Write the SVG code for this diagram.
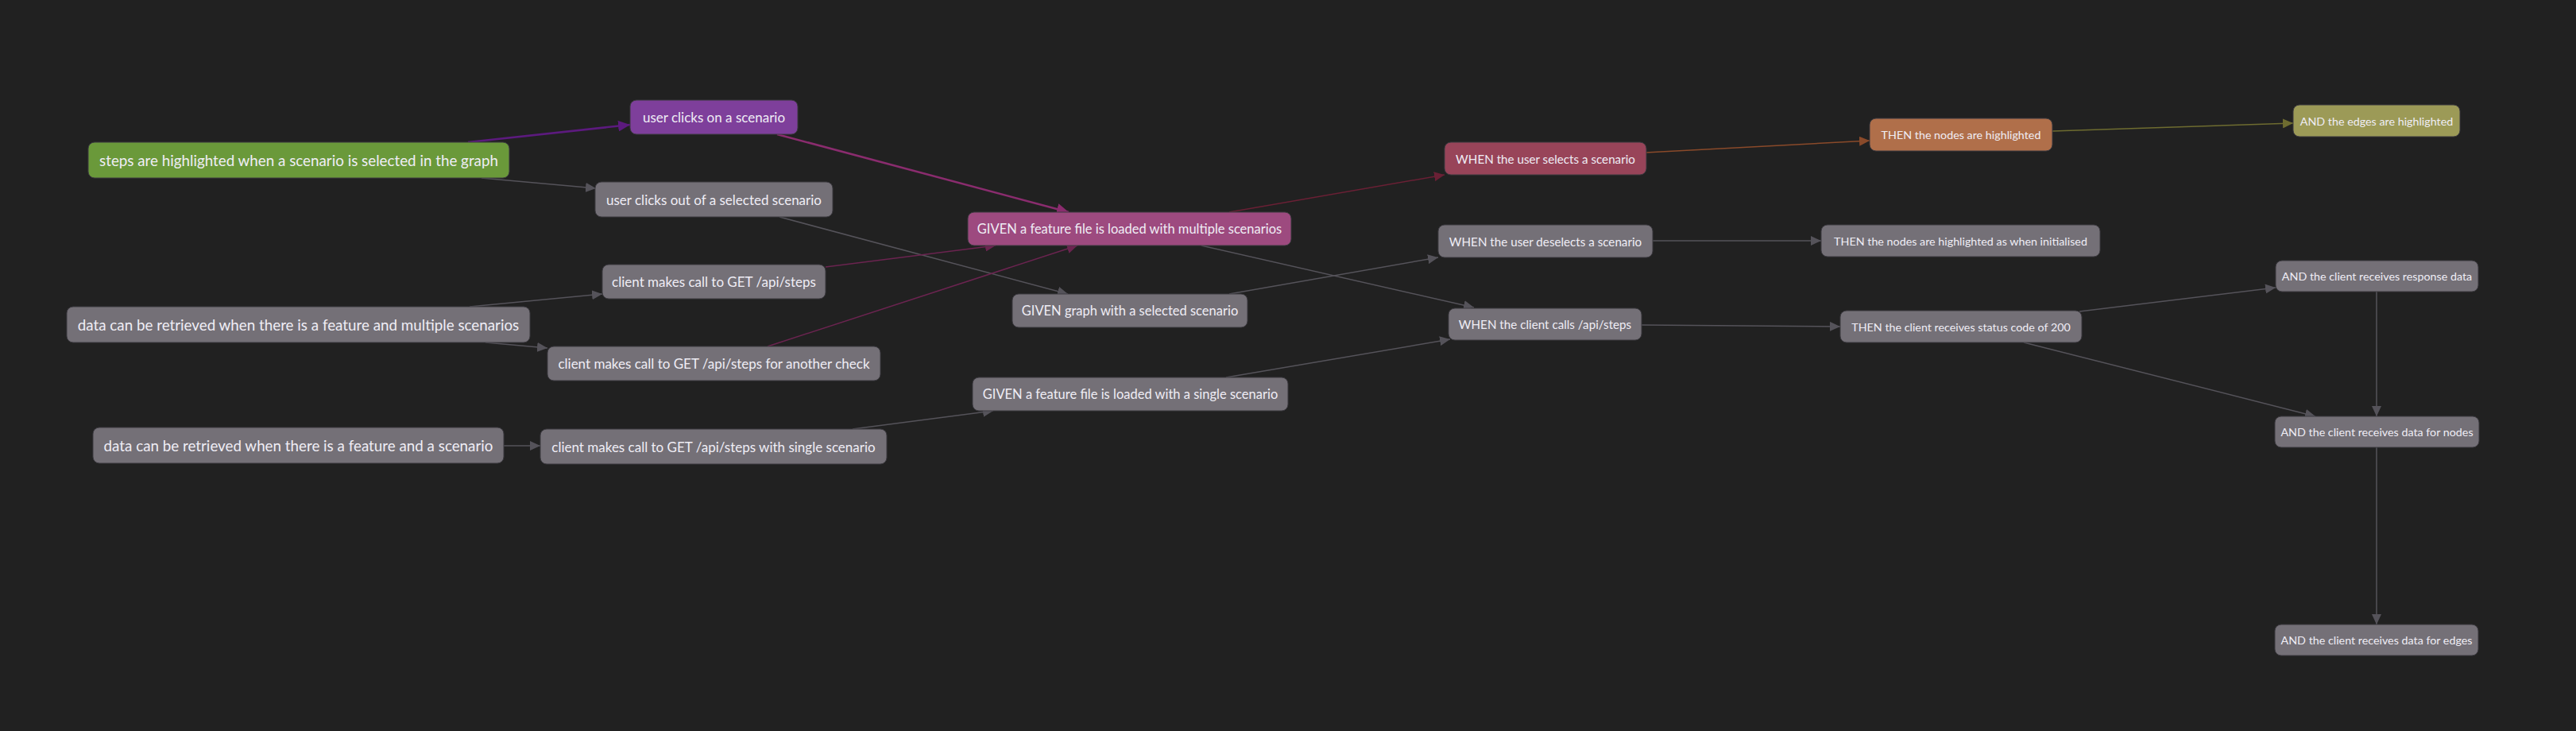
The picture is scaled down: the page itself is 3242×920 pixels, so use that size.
<svg xmlns="http://www.w3.org/2000/svg" width="3242" height="920" viewBox="0 0 3242 920">
<defs>
<style>
.bg{fill:#212121}
.n rect{stroke:#3c3a40;stroke-width:1}
.gray rect{fill:#747077}
.green rect{fill:#6a993a}
.purple rect{fill:#7e3f9b}
.given rect{fill:#9d4a7f}
.when rect{fill:#984459}
.then rect{fill:#b06f4a}
.and rect{fill:#9c9a57}
.n text{fill:#efedf5;font-family:Lato,"Open Sans","Noto Sans",sans-serif;text-anchor:middle;dominant-baseline:central}
.f1 text{font-size:18.8px}
.f2 text{font-size:17px}
.fg text{font-size:16.5px}
.f3 text{font-size:15.2px}
.f4 text{font-size:14.3px}
.e{fill:none;stroke:#55535a;stroke-width:1.5}
.e.ep{stroke:#5c1a7e;stroke-width:2.5}
.e.em{stroke:#8a2c6e;stroke-width:2.5}
.e.ed{stroke:#6b2450}
.e.er{stroke:#6a2035}
.e.eo{stroke:#8a4a2a}
.e.ey{stroke:#6e6c30}
</style>
<marker id="mg" markerUnits="userSpaceOnUse" markerWidth="14" markerHeight="12" refX="13" refY="6" orient="auto"><path d="M0,0 L13,6 L0,12 z" fill="#55535a"/></marker>
<marker id="mp" markerUnits="userSpaceOnUse" markerWidth="16" markerHeight="14" refX="15" refY="7" orient="auto"><path d="M0,0 L15,7 L0,14 z" fill="#5c1a7e"/></marker>
<marker id="mm" markerUnits="userSpaceOnUse" markerWidth="16" markerHeight="14" refX="15" refY="7" orient="auto"><path d="M0,0 L15,7 L0,14 z" fill="#8a2c6e"/></marker>
<marker id="md" markerUnits="userSpaceOnUse" markerWidth="14" markerHeight="12" refX="13" refY="6" orient="auto"><path d="M0,0 L13,6 L0,12 z" fill="#6b2450"/></marker>
<marker id="mr" markerUnits="userSpaceOnUse" markerWidth="14" markerHeight="12" refX="13" refY="6" orient="auto"><path d="M0,0 L13,6 L0,12 z" fill="#6a2035"/></marker>
<marker id="mo" markerUnits="userSpaceOnUse" markerWidth="14" markerHeight="12" refX="13" refY="6" orient="auto"><path d="M0,0 L13,6 L0,12 z" fill="#8a4a2a"/></marker>
<marker id="my" markerUnits="userSpaceOnUse" markerWidth="14" markerHeight="12" refX="13" refY="6" orient="auto"><path d="M0,0 L13,6 L0,12 z" fill="#6e6c30"/></marker>
</defs>
<rect class="bg" x="0" y="0" width="3242" height="920"/>
<g id="connectors">
<path class="e ep" d="M589,179 L793,157" marker-end="url(#mp)"/>
<path class="e" d="M606,224 L750,237" marker-end="url(#mg)"/>
<path class="e em" d="M978,169 L1345,267" marker-end="url(#mm)"/>
<path class="e" d="M981,273 L1344,370" marker-end="url(#mg)"/>
<path class="e ed" d="M1039,336 L1253,309" marker-end="url(#md)"/>
<path class="e ed" d="M966,436 L1356,309" marker-end="url(#md)"/>
<path class="e" d="M591,386 L758,370" marker-end="url(#mg)"/>
<path class="e" d="M611,431 L689,438" marker-end="url(#mg)"/>
<path class="e" d="M634,561 L680,561" marker-end="url(#mg)"/>
<path class="e" d="M1073,540 L1250,517" marker-end="url(#mg)"/>
<path class="e er" d="M1547,267 L1818,220" marker-end="url(#mr)"/>
<path class="e" d="M1512,309 L1855,387" marker-end="url(#mg)"/>
<path class="e" d="M1547,370 L1810,324" marker-end="url(#mg)"/>
<path class="e" d="M1543,475 L1825,427" marker-end="url(#mg)"/>
<path class="e eo" d="M2071,192 L2353,177" marker-end="url(#mo)"/>
<path class="e ey" d="M2583,165 L2886,155" marker-end="url(#my)"/>
<path class="e" d="M2080,303 L2292,303" marker-end="url(#mg)"/>
<path class="e" d="M2066,409 L2316,411" marker-end="url(#mg)"/>
<path class="e" d="M2617,392 L2864,362" marker-end="url(#mg)"/>
<path class="e" d="M2547,431 L2914,524" marker-end="url(#mg)"/>
<path class="e" d="M2991,367 L2991,524" marker-end="url(#mg)"/>
<path class="e" d="M2991,563 L2991,786" marker-end="url(#mg)"/>
</g>
<g id="n1" class="n green f1"><rect x="111" y="179" width="530" height="45" rx="8"/><text x="376" y="201.5">steps are highlighted when a scenario is selected in the graph</text></g>
<g id="n2" class="n gray f1"><rect x="84" y="386" width="583" height="45" rx="8"/><text x="375.5" y="408.5">data can be retrieved when there is a feature and multiple scenarios</text></g>
<g id="n3" class="n gray f1"><rect x="117" y="538" width="517" height="45" rx="8"/><text x="375.5" y="560.5">data can be retrieved when there is a feature and a scenario</text></g>
<g id="s1" class="n purple f2"><rect x="793" y="126" width="211" height="43" rx="8"/><text x="898.5" y="147.5">user clicks on a scenario</text></g>
<g id="s2" class="n gray f2"><rect x="749" y="229" width="299" height="44" rx="8"/><text x="898.5" y="251">user clicks out of a selected scenario</text></g>
<g id="s3" class="n gray f2"><rect x="758" y="333" width="281" height="43" rx="8"/><text x="898.5" y="354.5">client makes call to GET /api/steps</text></g>
<g id="s4" class="n gray f2"><rect x="689" y="436" width="419" height="43" rx="8"/><text x="898.5" y="457.5">client makes call to GET /api/steps for another check</text></g>
<g id="s5" class="n gray f2"><rect x="680" y="540" width="436" height="44" rx="8"/><text x="898" y="562">client makes call to GET /api/steps with single scenario</text></g>
<g id="g1" class="n given fg"><rect x="1218" y="267" width="407" height="42" rx="8"/><text x="1421.5" y="288">GIVEN a feature file is loaded with multiple scenarios</text></g>
<g id="g2" class="n gray fg"><rect x="1274" y="370" width="296" height="42" rx="8"/><text x="1422" y="391">GIVEN graph with a selected scenario</text></g>
<g id="g3" class="n gray fg"><rect x="1224" y="475" width="397" height="42" rx="8"/><text x="1422.5" y="496">GIVEN a feature file is loaded with a single scenario</text></g>
<g id="w1" class="n when f3"><rect x="1818" y="179" width="254" height="41" rx="8"/><text x="1945" y="199.5">WHEN the user selects a scenario</text></g>
<g id="w2" class="n gray f3"><rect x="1810" y="283" width="270" height="41" rx="8"/><text x="1945" y="303.5">WHEN the user deselects a scenario</text></g>
<g id="w3" class="n gray f3"><rect x="1823" y="388" width="243" height="40" rx="8"/><text x="1944.5" y="408">WHEN the client calls /api/steps</text></g>
<g id="t1" class="n then f4"><rect x="2353" y="149" width="230" height="41" rx="8"/><text x="2468" y="169.5">THEN the nodes are highlighted</text></g>
<g id="t2" class="n gray f4"><rect x="2292" y="283" width="351" height="40" rx="8"/><text x="2467.5" y="303">THEN the nodes are highlighted as when initialised</text></g>
<g id="t3" class="n gray f4"><rect x="2316" y="391" width="304" height="40" rx="8"/><text x="2468" y="411">THEN the client receives status code of 200</text></g>
<g id="a1" class="n and f4"><rect x="2886" y="132" width="210" height="40" rx="8"/><text x="2991" y="152">AND the edges are highlighted</text></g>
<g id="a2" class="n gray f4"><rect x="2864" y="328" width="255" height="39" rx="8"/><text x="2991.5" y="347.5">AND the client receives response data</text></g>
<g id="a3" class="n gray f4"><rect x="2863" y="524" width="257" height="39" rx="8"/><text x="2991.5" y="543.5">AND the client receives data for nodes</text></g>
<g id="a4" class="n gray f4"><rect x="2863" y="786" width="256" height="39" rx="8"/><text x="2991" y="805.5">AND the client receives data for edges</text></g>
</svg>
